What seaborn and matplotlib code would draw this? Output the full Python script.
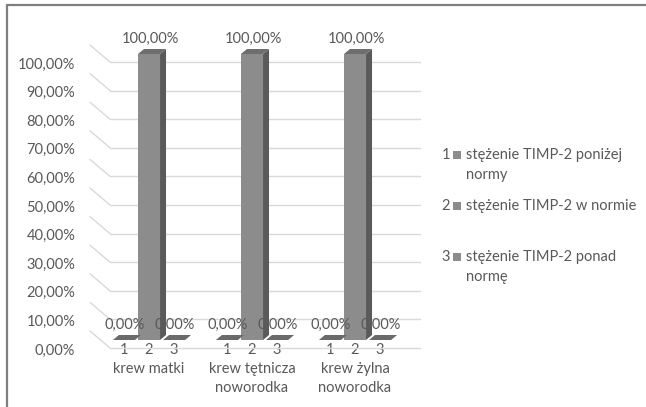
import numpy as np
import pandas as pd
import seaborn as sns
import matplotlib
matplotlib.use("Agg")
import matplotlib.pyplot as plt
from matplotlib.patches import Polygon, Rectangle
from matplotlib.lines import Line2D
import matplotlib.transforms as mtransforms

# ---------------- data ----------------
groups = ["krew matki", "krew tętnicza\nnoworodka", "krew żylna\nnoworodka"]
series_ids = ["1", "2", "3"]
series_names = ["stężenie TIMP-2 poniżej\nnormy",
                "stężenie TIMP-2 w normie",
                "stężenie TIMP-2 ponad\nnormę"]
val_s1 = [0.0, 0.0, 0.0]
val_s2 = [100.0, 100.0, 100.0]
val_s3 = [0.0, 0.0, 0.0]
y_ticks = [0, 10, 20, 30, 40, 50, 60, 70, 80, 90, 100]

rows = []
for sid, vals in zip(series_ids, [val_s1, val_s2, val_s3]):
    for g, v in zip(groups, vals):
        rows.append({"grupa": g, "seria": sid, "wartosc": v})
df = pd.DataFrame(rows)

# ---------------- style ----------------
sns.set_theme(style="white")
plt.rcParams["font.family"] = ["Lato", "DejaVu Sans"]
TXT = "#595959"
FRONT = "#8c8c8c"
SIDE = "#5a5a5a"
TOP = "#6e6e6e"
GRID = "#d9d9d9"
FS = 10.5

W, H = 646, 407
fig = plt.figure(figsize=(W / 100, H / 100), dpi=100)
fig.patch.set_facecolor("white")

# bar plane in pixels
L, R, T, B = 97.5, 406.5, 54.0, 340.0
ax = fig.add_axes([L / W, (H - B) / H, (R - L) / W, (B - T) / H])
ax.set_facecolor("none")

sns.barplot(data=df, x="grupa", y="wartosc", hue="seria",
            palette=[FRONT, FRONT, FRONT], saturation=1,
            width=0.73, gap=0.12, ax=ax, legend=False, zorder=3,
            linewidth=0)
ax.set_xlim(-0.5, 2.5)
ax.set_ylim(0, 100)

pxx = (R - L) / 3.0      # pixels per x unit
pxy = (B - T) / 100.0    # pixels per y unit


def px2x(px):
    return (px - L) / pxx - 0.5


def dpx_y(dp):
    return dp / pxy

# ---------------- 3D walls / grid ----------------
x_back0, x_back1 = px2x(110), px2x(420)
x_front = px2x(90)
for t in y_ticks:
    yb = t - dpx_y(8)
    yf = t + dpx_y(9)
    ax.plot([x_back0, x_back1], [yb, yb], color=GRID, lw=1.0,
            zorder=1, clip_on=False)
    ax.plot([x_front, x_back0], [yf, yb], color=GRID, lw=1.0,
            zorder=1, clip_on=False)

# ---------------- 3D bar faces ----------------
ddx = 6 / pxx
ddy = dpx_y(5)
bar_centers = []
for p in ax.patches:
    x0 = p.get_x()
    w = p.get_width()
    h = p.get_height()
    x1 = x0 + w
    bar_centers.append((x0 + w / 2, h))
    if h > 0:
        side = Polygon([(x1, 0), (x1 + ddx, ddy), (x1 + ddx, h + ddy), (x1, h)],
                       closed=True, facecolor=SIDE, edgecolor="none",
                       zorder=3, clip_on=False)
        ax.add_patch(side)
    top = Polygon([(x0, h), (x1, h), (x1 + ddx, h + ddy), (x0 + ddx, h + ddy)],
                  closed=True, facecolor=TOP if h > 0 else "#6a6a6a",
                  edgecolor="none", zorder=3, clip_on=False)
    ax.add_patch(top)

# data labels
for cx, h in bar_centers:
    lab = f"{h:.2f}".replace(".", ",") + "%"
    ax.annotate(lab, (cx, h), xytext=(1, 15), textcoords="offset pixels",
                ha="center", va="center", fontsize=FS, color=TXT,
                zorder=5, annotation_clip=False)

# ---------------- axes ticks ----------------
for s in ax.spines.values():
    s.set_visible(False)
ax.set_xlabel("")
ax.set_ylabel("")
ax.set_yticks(y_ticks)
ax.set_yticklabels([f"{t:.2f}".replace(".", ",") + "%" for t in y_ticks])
ax.tick_params(axis="y", length=0, pad=16, labelsize=FS, labelcolor=TXT)
yoff = mtransforms.ScaledTranslation(0, -9 / 100, fig.dpi_scale_trans)
for lab in ax.get_yticklabels():
    lab.set_transform(lab.get_transform() + yoff)

ax.xaxis.remove_overlapping_locs = False
ax.set_xticks(range(len(groups)))
ax.set_xticklabels(groups, linespacing=1.4)
cs = sorted([c for c, _ in bar_centers])
ax.set_xticks(cs, minor=True)
ax.set_xticklabels([series_ids[i % 3] for i in range(len(cs))], minor=True)
ax.tick_params(axis="x", which="major", length=0, pad=16, labelsize=FS, labelcolor=TXT)
ax.tick_params(axis="x", which="minor", length=0, pad=2, labelsize=FS, labelcolor=TXT)

# ---------------- legend ----------------
leg_rows = [155, 206, 257]
for sid, name, yc in zip(series_ids, series_names, leg_rows):
    yy = (H - yc) / H
    fig.text(450 / W, yy, sid, ha="right", va="center", fontsize=FS, color=TXT)
    fig.patches.append(Rectangle((453 / W, (H - yc - 4) / H), 8 / W, 8 / H,
                                 transform=fig.transFigure, facecolor=FRONT,
                                 edgecolor="none", figure=fig))
    lines = name.split("\n")
    for k, ln in enumerate(lines):
        fig.text(466 / W, (H - yc - 20 * k) / H, ln, ha="left", va="center",
                 fontsize=FS, color=TXT)

# ---------------- frame ----------------
fig.add_artist(Line2D([7 / W, 7 / W], [0, (H - 5) / H], color="#7f7f7f", lw=1.6,
                      transform=fig.transFigure))
fig.add_artist(Line2D([7 / W, 1], [(H - 5) / H, (H - 5) / H], color="#7f7f7f", lw=1.6,
                      transform=fig.transFigure))

fig.savefig("out.png", dpi=100, facecolor="white")
